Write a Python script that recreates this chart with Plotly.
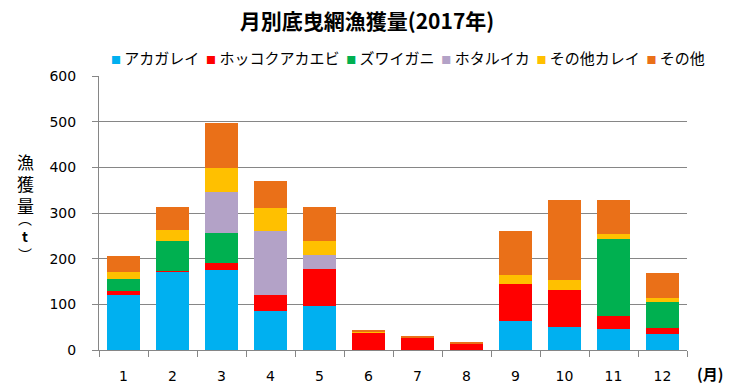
import plotly.graph_objects as go

months = ["1", "2", "3", "4", "5", "6", "7", "8", "9", "10", "11", "12"]
series_names = ["アカガレイ", "ホッコクアカエビ", "ズワイガニ", "ホタルイカ", "その他カレイ", "その他"]
akagarei = [120, 171, 175, 85, 97, 0, 0, 0, 63, 51, 46, 36]
hokkoku_akaebi = [9, 2, 15, 35, 80, 38, 27, 14, 82, 80, 29, 13]
zuwaigani = [27, 66, 66, 0, 0, 0, 0, 0, 0, 0, 168, 56]
hotaruika = [0, 0, 91, 140, 31, 0, 0, 0, 0, 0, 0, 0]
sonota_karei = [15, 24, 52, 52, 31, 2, 0, 0, 19, 22, 12, 9]
sonota = [35, 50, 98, 58, 74, 4, 2, 2, 96, 175, 73, 55]
y_ticks = [0, 100, 200, 300, 400, 500, 600]

series_values = [akagarei, hokkoku_akaebi, zuwaigani, hotaruika, sonota_karei, sonota]
colors = ["#00B0F0", "#FF0000", "#00B050", "#B3A2C7", "#FFC000", "#EA7018"]

fig = go.Figure()
for name, vals, col in zip(series_names, series_values, colors):
    fig.add_trace(go.Bar(x=months, y=vals, name=name, marker=dict(color=col, line=dict(width=0)),
                         showlegend=False))

legend_text = "&nbsp;&nbsp;".join(
    f'<span style="color:{c};font-size:10px">■</span>&nbsp;{n}' for n, c in zip(series_names, colors)
)

fig.update_layout(
    width=734, height=388,
    margin=dict(l=99, r=47, t=76, b=38),
    barmode="stack", bargap=0.32,
    plot_bgcolor="white", paper_bgcolor="white",
    font=dict(family="DejaVu Sans", size=14, color="#000000"),
    title=dict(text="<b>月別底曳網漁獲量(2017年)</b>", x=0.5, xref="container", xanchor="center",
               y=1 - 22 / 388, yanchor="middle",
               font=dict(family="Noto Sans CJK JP", size=21, color="#000000")),
    xaxis=dict(type="category", showline=True, linecolor="#868686", linewidth=1, automargin=False,
               ticks="outside", tickson="boundaries", ticklen=6, tickcolor="#868686",
               ticklabelstandoff=13,
               showgrid=False, tickfont=dict(family="DejaVu Sans", size=14)),
    yaxis=dict(range=[0, 600], tickvals=y_ticks, showline=True, linecolor="#868686", linewidth=1,
               automargin=False,
               ticks="outside", ticklen=6, tickcolor="#868686", ticklabelstandoff=13,
               showgrid=True, gridcolor="#868686", gridwidth=1, zeroline=False,
               tickfont=dict(family="DejaVu Sans", size=14)),
    annotations=[
        dict(text=legend_text, xref="paper", yref="paper", x=(408 - 99) / 588, y=1 + (76 - 57) / 274,
             xanchor="center", yanchor="middle", showarrow=False,
             font=dict(family="Noto Sans CJK JP", size=15, color="#000000")),
        dict(text="漁<br>獲<br>量", xref="paper", yref="paper",
             x=(25 - 99) / 588, y=(350 - 183) / 274, xanchor="center", yanchor="middle",
             showarrow=False, font=dict(family="Noto Sans CJK JP", size=17, color="#000000")),
        dict(text="︵<br><b>t</b><br>︶", xref="paper", yref="paper",
             x=(25 - 99) / 588, y=(350 - 236) / 274, xanchor="center", yanchor="middle",
             showarrow=False, font=dict(family="Noto Sans CJK JP", size=14, color="#000000")),
        dict(text="<b>(月)</b>", xref="paper", yref="paper", x=(710 - 99) / 588, y=(350 - 373) / 274,
             xanchor="center", yanchor="middle", showarrow=False,
             font=dict(family="Noto Sans CJK JP", size=15, color="#000000")),
    ],
)

fig.write_html("out.html", config={"displayModeBar": False},
               post_script="document.body.style.margin='0';")
